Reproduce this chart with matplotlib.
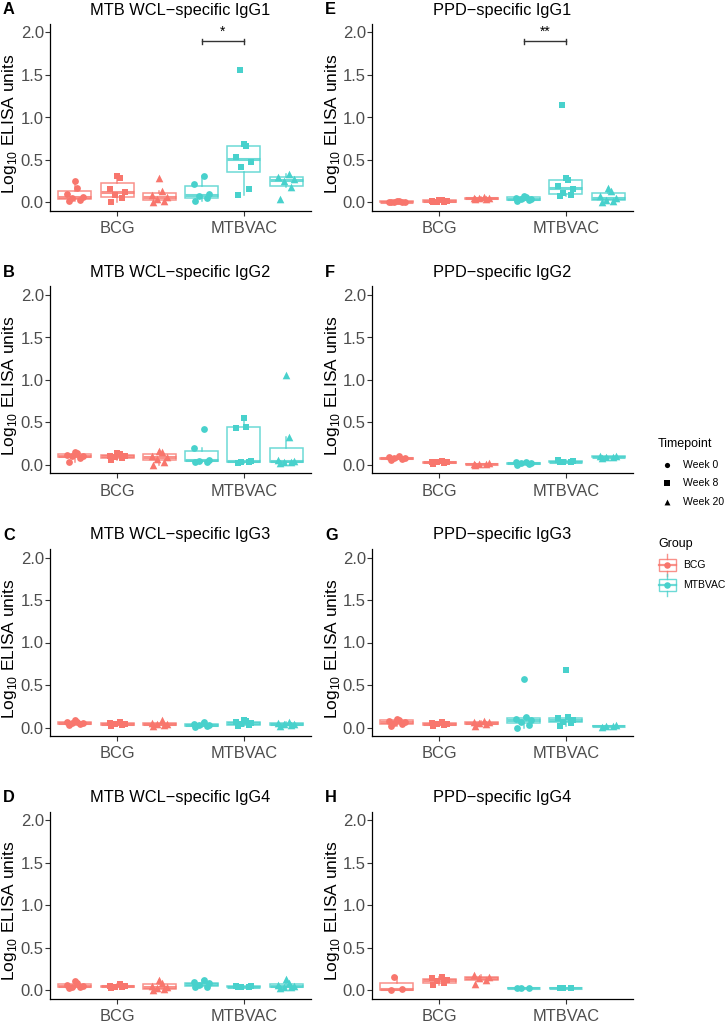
import numpy as np
import matplotlib
matplotlib.use('Agg')
from matplotlib import pyplot as plt
from matplotlib.patches import Rectangle

plt.rcParams['font.family'] = ['Liberation Sans', 'DejaVu Sans']
plt.rcParams['mathtext.fontset'] = 'custom'
plt.rcParams['mathtext.rm'] = 'Liberation Sans'

groups = ['BCG', 'MTBVAC']
timepoints = ['Week 0', 'Week 8', 'Week 20']
group_colors = ['#F8766D', '#48D1CC']
tp_markers = ['o', 's', '^']

# each panel: BCG wk0, wk8, wk20, MTBVAC wk0, wk8, wk20
wcl_igg1 = [
    [0.02, 0.03, 0.05, 0.07, 0.10, 0.17, 0.25],
    [0.00, 0.05, 0.09, 0.12, 0.16, 0.29, 0.31],
    [0.01, 0.02, 0.04, 0.06, 0.09, 0.14, 0.29],
    [0.02, 0.05, 0.08, 0.10, 0.22, 0.31],
    [0.09, 0.16, 0.42, 0.48, 0.54, 0.66, 0.69, 1.56],
    [0.04, 0.18, 0.25, 0.28, 0.30, 0.34],
]
wcl_igg2 = [
    [0.03, 0.08, 0.10, 0.11, 0.12, 0.14, 0.15],
    [0.06, 0.08, 0.09, 0.10, 0.11, 0.13, 0.14],
    [0.00, 0.04, 0.07, 0.09, 0.10, 0.15, 0.16],
    [0.03, 0.04, 0.05, 0.06, 0.20, 0.42],
    [0.02, 0.03, 0.04, 0.05, 0.44, 0.45, 0.55],
    [0.02, 0.03, 0.04, 0.05, 0.06, 0.33, 1.06],
]
wcl_igg3 = [
    [0.03, 0.04, 0.05, 0.05, 0.06, 0.07, 0.09],
    [0.02, 0.03, 0.04, 0.04, 0.05, 0.06],
    [0.02, 0.03, 0.04, 0.04, 0.05, 0.09],
    [0.01, 0.02, 0.03, 0.03, 0.04, 0.06],
    [0.02, 0.03, 0.04, 0.05, 0.06, 0.08, 0.09],
    [0.02, 0.03, 0.04, 0.04, 0.05, 0.07],
]
wcl_igg4 = [
    [0.02, 0.03, 0.04, 0.05, 0.06, 0.08, 0.11],
    [0.02, 0.03, 0.04, 0.05, 0.05, 0.07],
    [0.00, 0.01, 0.02, 0.04, 0.05, 0.08, 0.12],
    [0.03, 0.04, 0.06, 0.08, 0.09, 0.12],
    [0.03, 0.04, 0.04, 0.05, 0.05],
    [0.02, 0.03, 0.04, 0.05, 0.06, 0.08, 0.13],
]
ppd_igg1 = [
    [0.00, 0.00, 0.01, 0.01, 0.01, 0.02, 0.02],
    [0.00, 0.01, 0.01, 0.02, 0.02, 0.03, 0.03],
    [0.04, 0.04, 0.05, 0.05, 0.05, 0.06],
    [0.02, 0.03, 0.04, 0.04, 0.05, 0.07, 0.08],
    [0.08, 0.09, 0.11, 0.16, 0.19, 0.26, 0.29, 1.15],
    [0.00, 0.02, 0.03, 0.05, 0.08, 0.14, 0.17],
]
ppd_igg2 = [
    [0.06, 0.07, 0.08, 0.08, 0.09, 0.10],
    [0.01, 0.02, 0.03, 0.03, 0.04, 0.05],
    [0.00, 0.01, 0.01, 0.02, 0.01],
    [0.00, 0.01, 0.02, 0.02, 0.03, 0.04],
    [0.03, 0.04, 0.04, 0.05, 0.06],
    [0.08, 0.09, 0.09, 0.10, 0.10],
]
ppd_igg3 = [
    [0.02, 0.04, 0.05, 0.07, 0.08, 0.09, 0.10],
    [0.02, 0.03, 0.04, 0.04, 0.05, 0.06],
    [0.02, 0.04, 0.05, 0.06, 0.07, 0.08],
    [0.00, 0.03, 0.07, 0.09, 0.10, 0.12, 0.57],
    [0.02, 0.05, 0.07, 0.09, 0.11, 0.12, 0.68],
    [0.01, 0.02, 0.02, 0.03],
]
ppd_igg4 = [
    [0.00, 0.01, 0.15],
    [0.06, 0.08, 0.11, 0.12, 0.14, 0.15],
    [0.07, 0.12, 0.14, 0.15, 0.18],
    [0.02, 0.02, 0.02],
    [0.02, 0.02, 0.02],
    [],
]

panels = [
    ('A', 'MTB WCL\u2212specific IgG1', wcl_igg1, '*'),
    ('B', 'MTB WCL\u2212specific IgG2', wcl_igg2, None),
    ('C', 'MTB WCL\u2212specific IgG3', wcl_igg3, None),
    ('D', 'MTB WCL\u2212specific IgG4', wcl_igg4, None),
    ('E', 'PPD\u2212specific IgG1', ppd_igg1, '**'),
    ('F', 'PPD\u2212specific IgG2', ppd_igg2, None),
    ('G', 'PPD\u2212specific IgG3', ppd_igg3, None),
    ('H', 'PPD\u2212specific IgG4', ppd_igg4, None),
]

jitter = [-0.05, 0.04, -0.02, 0.06, -0.06, 0.02, 0.0, -0.03]

W, H = 725, 1022
fig = plt.figure(figsize=(W / 100, H / 100), dpi=100)

row_tops = [24, 286.5, 549, 811.5]
col_lefts = [50, 372]
aw, ah = 261, 187
grey = '#4D4D4D'

for k, (letter, title, data, sig) in enumerate(panels):
    col = k // 4
    row = k % 4
    x0 = col_lefts[col]
    y0 = row_tops[row]
    ax = fig.add_axes([x0 / W, 1 - (y0 + ah) / H, aw / W, ah / H])

    for i, vals in enumerate(data):
        if len(vals) == 0:
            continue
        g = i // 3
        t = i % 3
        pos = g + 1 + (t - 1) / 3
        c = group_colors[g]
        ax.boxplot([vals], positions=[pos], widths=0.26, showfliers=False,
                   showcaps=False, patch_artist=True, manage_ticks=False,
                   boxprops=dict(facecolor='white', edgecolor=c, linewidth=1.1, alpha=0.8),
                   medianprops=dict(color=c, linewidth=2.2, alpha=0.8),
                   whiskerprops=dict(color=c, linewidth=1.1, alpha=0.8),
                   zorder=2)
        xs = pos + np.array(jitter[:len(vals)])
        ax.scatter(xs, vals, marker=tp_markers[t], color=c, s=24 if t < 2 else 30,
                   linewidths=0, zorder=3)

    if sig:
        x1, x2, yb = 2 - 1 / 3, 2, 1.895
        ax.plot([x1, x2], [yb, yb], color='#333333', lw=1.0, zorder=4)
        for xe in (x1, x2):
            ax.plot([xe, xe], [yb - 0.025, yb + 0.025], color='#333333', lw=1.0, zorder=4)
        ax.text((x1 + x2) / 2, yb + 0.03, sig, ha='center', va='bottom', fontsize=10)

    ax.set_xlim(0.47, 2.53)
    ax.set_ylim(-0.1, 2.1)
    ax.set_xticks([1, 2])
    ax.set_xticklabels(groups)
    ax.set_yticks([0, 0.5, 1.0, 1.5, 2.0])
    ax.set_yticklabels(['0.0', '0.5', '1.0', '1.5', '2.0'])
    for s in ['top', 'right']:
        ax.spines[s].set_visible(False)
    for s in ['left', 'bottom']:
        ax.spines[s].set_linewidth(0.9)
        ax.spines[s].set_color('black')
    ax.tick_params(axis='y', labelsize=12, labelcolor=grey, color='#333333',
                   length=3.5, width=0.8, pad=1)
    ax.tick_params(axis='x', labelsize=11.8, labelcolor=grey, color='#333333',
                   length=3.5, width=0.8, pad=4)

    fig.text((x0 + aw / 2) / W, 1 - (y0 - 14) / H, title, ha='center', va='center',
             fontsize=11.8)
    fig.text((3 if col == 0 else 325) / W, 1 - (y0 - 14) / H, letter, ha='left',
             va='center', fontsize=11.8, fontweight='bold')
    fig.text((x0 - 40) / W, 1 - (y0 + ah / 2 + 6) / H,
             r'Log$_{\mathregular{10}}$ ELISA units', rotation=90,
             ha='center', va='center', fontsize=12.5)

# legend, drawn in pixel coordinates
lg = fig.add_axes([0, 0, 1, 1], zorder=10)
lg.set_xlim(0, W)
lg.set_ylim(H, 0)
lg.axis('off')
lg.patch.set_alpha(0)

lg.text(658, 444, 'Timepoint', ha='left', va='center', fontsize=9)
for j, tp in enumerate(timepoints):
    yy = 465 + j * 18.5
    lg.scatter([667], [yy], marker=tp_markers[j], color='black', s=14 if j < 2 else 18,
               linewidths=0)
    lg.text(683, yy, tp, ha='left', va='center', fontsize=7.5)

lg.text(658, 544, 'Group', ha='left', va='center', fontsize=9)
for j, gname in enumerate(groups):
    yy = 565 + j * 20
    c = group_colors[j]
    lg.plot([667, 667], [yy - 11, yy - 6], color=c, lw=1.0, alpha=0.8)
    lg.plot([667, 667], [yy + 6, yy + 11], color=c, lw=1.0, alpha=0.8)
    lg.add_patch(Rectangle((659, yy - 6), 17, 12, facecolor='white', edgecolor=c,
                           lw=1.0, alpha=0.8))
    lg.plot([659, 676], [yy, yy], color=c, lw=1.6, alpha=0.8)
    lg.scatter([667], [yy], marker='o', color=c, s=22, linewidths=0, zorder=5)
    lg.text(683, yy, gname, ha='left', va='center', fontsize=7.5)

fig.savefig('out.png', dpi=100)
